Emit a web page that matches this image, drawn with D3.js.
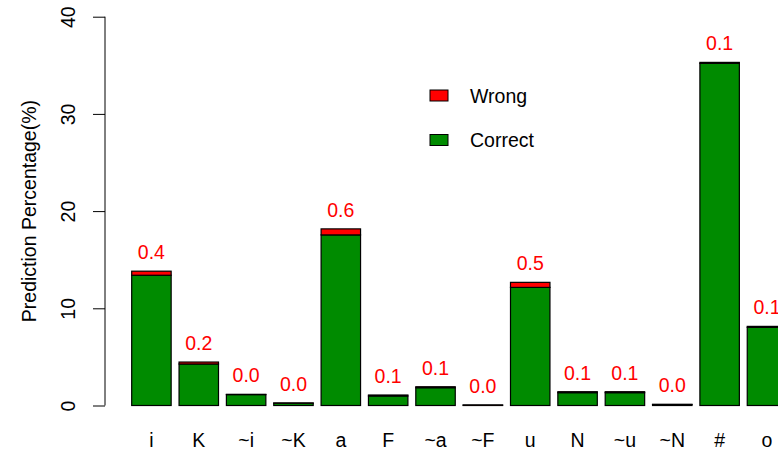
<!DOCTYPE html>
<html>
<head>
<meta charset="utf-8">
<script src="https://cdn.jsdelivr.net/npm/d3@7"></script>
<style>
  body { margin: 0; background: #fff; }
  svg { display: block; font-family: "Liberation Sans", Arial, sans-serif; }
</style>
</head>
<body>
<svg id="chart"></svg>
<script>
const categories = ['i', 'K', '~i', '~K', 'a', 'F', '~a', '~F', 'u', 'N', '~u', '~N', '#', 'o'];
const correct = [13.4, 4.27, 1.12, 0.24, 17.55, 0.98, 1.83, 0.04, 12.15, 1.32, 1.32, 0.1, 35.2, 8.04];
const wrong = [0.42, 0.2, 0.03, 0.02, 0.62, 0.1, 0.1, 0.01, 0.52, 0.1, 0.1, 0.02, 0.1, 0.1];
const yTicks = [0, 10, 20, 30, 40];

const width = 778;
const height = 455;
const fontSize = 19.5;

const svg = d3.select('#chart')
  .attr('width', width)
  .attr('height', height);

// band scale: bar width 1, space 0.2 (R barplot style)
const x = d3.scaleBand()
  .domain(categories)
  .range([127.75, 127.75 + 14 * 47.35])
  .paddingInner(0.2 / 1.2)
  .paddingOuter(0.1 / 1.2);

const y = d3.scaleLinear()
  .domain([0, 40])
  .range([405.5, 16.7]);

// Y axis
const yAxis = d3.axisLeft(y)
  .tickValues(yTicks)
  .tickSize(12)
  .tickFormat(d3.format('d'));

const gy = svg.append('g')
  .attr('transform', 'translate(105,0)')
  .call(yAxis);
gy.select('.domain').attr('d', `M0,${y(0)}V${y(40)}`).attr('stroke', '#000');
gy.selectAll('.tick line').attr('stroke', '#000');
gy.selectAll('.tick text')
  .attr('x', null).attr('dy', null)
  .attr('font-size', fontSize)
  .attr('fill', '#000')
  .attr('text-anchor', 'middle')
  .attr('transform', 'translate(-30,0) rotate(-90)');

// Y label
svg.append('text')
  .attr('transform', `translate(36,${(y(0) + y(40)) / 2}) rotate(-90)`)
  .attr('text-anchor', 'middle')
  .attr('font-size', fontSize)
  .text('Prediction Percentage(%)');

// Stacked bars
const series = d3.stack().keys(['correct', 'wrong'])(
  categories.map((c, i) => ({ cat: c, correct: correct[i], wrong: wrong[i] }))
);
const colors = { correct: '#008B00', wrong: '#FF0000' };

svg.append('g').selectAll('g')
  .data(series)
  .join('g')
  .attr('fill', d => colors[d.key])
  .selectAll('rect')
  .data(d => d)
  .join('rect')
  .attr('x', d => x(d.data.cat))
  .attr('y', d => y(d[1]))
  .attr('width', x.bandwidth())
  .attr('height', d => y(d[0]) - y(d[1]))
  .attr('stroke', '#000')
  .attr('stroke-width', 1.2);

// Value labels (wrong share)
svg.append('g').selectAll('text')
  .data(categories)
  .join('text')
  .attr('x', (d, i) => x(d) + x.bandwidth() / 2)
  .attr('y', (d, i) => y(correct[i] + wrong[i]) - 12)
  .attr('text-anchor', 'middle')
  .attr('font-size', fontSize)
  .attr('fill', '#FF0000')
  .text((d, i) => (Math.floor(wrong[i] * 10) / 10).toFixed(1));

// Category labels
svg.append('g').selectAll('text')
  .data(categories)
  .join('text')
  .attr('x', d => x(d) + x.bandwidth() / 2)
  .attr('y', 447)
  .attr('text-anchor', 'middle')
  .attr('font-size', fontSize)
  .text(d => d);

// Legend
const legendItems = [
  { label: 'Wrong', color: colors.wrong, y: 95.5 },
  { label: 'Correct', color: colors.correct, y: 140 }
];
const legend = svg.append('g');
legend.selectAll('rect')
  .data(legendItems)
  .join('rect')
  .attr('x', 430)
  .attr('y', d => d.y - 5.5)
  .attr('width', 18)
  .attr('height', 11)
  .attr('fill', d => d.color)
  .attr('stroke', '#000');
legend.selectAll('text')
  .data(legendItems)
  .join('text')
  .attr('x', 470)
  .attr('y', d => d.y + 7)
  .attr('font-size', fontSize)
  .text(d => d.label);
</script>
</body>
</html>
